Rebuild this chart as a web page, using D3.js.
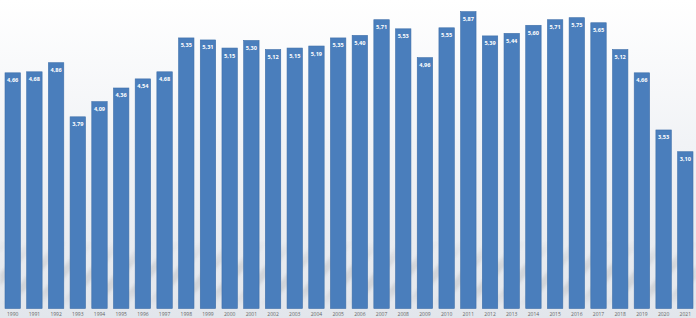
<!DOCTYPE html>
<html>
<head>
<meta charset="utf-8">
<script src="https://cdn.jsdelivr.net/npm/d3@7"></script>
<style>
  html, body { margin: 0; padding: 0; background: #fff; }
  svg { display: block; }
</style>
</head>
<body>
<figure id="barchart" style="margin:0"></figure>
<script>
// chart data
const years = ['1990', '1991', '1992', '1993', '1994', '1995', '1996', '1997', '1998', '1999',
  '2000', '2001', '2002', '2003', '2004', '2005', '2006', '2007', '2008', '2009', '2010',
  '2011', '2012', '2013', '2014', '2015', '2016', '2017', '2018', '2019', '2020', '2021'];
const values = [4.66, 4.68, 4.86, 3.79, 4.09, 4.36, 4.54, 4.68, 5.35, 5.31,
  5.15, 5.30, 5.12, 5.15, 5.19, 5.35, 5.40, 5.71, 5.53, 4.96, 5.55,
  5.87, 5.39, 5.44, 5.60, 5.71, 5.75, 5.65, 5.12, 4.66, 3.53, 3.10];

const width = 696;
const height = 318;
const fmt = (v) => v.toFixed(2).replace('.', ',');

const svg = d3.select('figure#barchart')
  .append('svg')
  .attr('width', width)
  .attr('height', height);

const defs = svg.append('defs');

// background fade, white at top to pale grey-blue near the floor
const bg = defs.append('linearGradient')
  .attr('id', 'bg').attr('x1', 0).attr('y1', 0).attr('x2', 0).attr('y2', 1);
bg.append('stop').attr('offset', '0%').attr('stop-color', '#ffffff');
bg.append('stop').attr('offset', '45%').attr('stop-color', '#f1f3f6');
bg.append('stop').attr('offset', '100%').attr('stop-color', '#e2e6ec');

// diagonal shadow stripes low in the background
const stripes = defs.append('pattern')
  .attr('id', 'stripes')
  .attr('patternUnits', 'userSpaceOnUse')
  .attr('width', 22).attr('height', 22)
  .attr('patternTransform', 'rotate(40)');
stripes.append('rect').attr('width', 8).attr('height', 22).attr('fill', '#b9bcc0');

defs.append('filter').attr('id', 'soft')
  .append('feGaussianBlur').attr('stdDeviation', 1.6);

const fade = defs.append('linearGradient')
  .attr('id', 'fade').attr('x1', 0).attr('y1', 0).attr('x2', 0).attr('y2', 1);
fade.append('stop').attr('offset', '0%').attr('stop-color', '#fff').attr('stop-opacity', 0);
fade.append('stop').attr('offset', '40%').attr('stop-color', '#fff').attr('stop-opacity', 0.8);
fade.append('stop').attr('offset', '75%').attr('stop-color', '#fff').attr('stop-opacity', 0.8);
fade.append('stop').attr('offset', '100%').attr('stop-color', '#fff').attr('stop-opacity', 0);
defs.append('mask').attr('id', 'bandMask')
  .append('rect').attr('x', 0).attr('y', 240).attr('width', width).attr('height', 66)
  .attr('fill', 'url(#fade)');

svg.append('rect')
  .attr('width', width).attr('height', height)
  .attr('fill', 'url(#bg)');

svg.append('g')
  .attr('mask', 'url(#bandMask)')
  .append('rect')
  .attr('x', 0).attr('y', 240).attr('width', width).attr('height', 66)
  .attr('fill', 'url(#stripes)')
  .attr('filter', 'url(#soft)')
  .attr('opacity', 0.55);

const xScale = d3.scaleBand()
  .domain(years)
  .range([5, 693])
  .paddingInner(0.29)
  .paddingOuter(0);

const yScale = d3.scaleLinear()
  .domain([0, 6.1])
  .range([308.5, 0]);

// bars
svg.append('g')
  .selectAll('rect')
  .data(values)
  .enter()
  .append('rect')
  .attr('x', (d, i) => xScale(years[i]))
  .attr('y', (d) => yScale(d))
  .attr('width', xScale.bandwidth())
  .attr('height', (d) => yScale(0) - yScale(d))
  .attr('fill', '#4a7ebc')
  .attr('stroke', '#3e6fa9')
  .attr('stroke-width', 0.6);

// value labels inside the bars
svg.append('g')
  .selectAll('text')
  .data(values)
  .enter()
  .append('text')
  .attr('x', (d, i) => xScale(years[i]) + xScale.bandwidth() / 2)
  .attr('y', (d) => yScale(d) + 9.5)
  .attr('text-anchor', 'middle')
  .style('font-family', 'Open Sans, sans-serif')
  .style('font-weight', '700')
  .style('font-size', '5.6px')
  .style('fill', '#ffffff')
  .text((d) => fmt(d));

// x axis (year labels only)
const xAxis = d3.axisBottom(xScale).tickSize(0).tickPadding(4);
const axisG = svg.append('g')
  .attr('transform', `translate(0, ${yScale(0)})`)
  .call(xAxis);
axisG.select('.domain').remove();
axisG.selectAll('text')
  .style('font-family', 'Open Sans, sans-serif')
  .style('font-size', '5px')
  .style('fill', '#666666');
</script>
</body>
</html>
